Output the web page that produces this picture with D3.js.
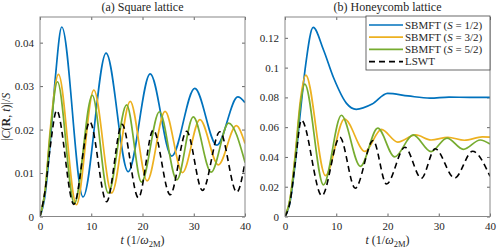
<!DOCTYPE html>
<html>
<head>
<meta charset="utf-8">
<script src="https://cdn.jsdelivr.net/npm/d3@7"></script>
<style>
  body { margin: 0; background: #fff; }
  svg text { fill: #262626; }
</style>
</head>
<body>
<svg id="chart" width="500" height="250"></svg>
<script>
// series: [t, |C|/S]
const squareS12 = [[0,0],[1,0.005],[2,0.017],[3,0.032],[4.25,0.0436],[8.4,0.0045],[12.9,0.0376],[17.2,0.0103],[21.5,0.0328],[25.7,0.0139],[30.2,0.0295],[34.5,0.0164],[38.6,0.0275],[40,0.0262]];
const squareS32 = [[0,0],[1,0.006],[2,0.02],[3.6,0.0327],[7.1,0.0027],[10.5,0.0291],[14.0,0.0054],[17.6,0.0265],[20.9,0.0082],[24.4,0.0242],[27.8,0.0101],[31.2,0.0223],[34.8,0.0119],[38.3,0.0209],[40,0.0168]];
const squareS52 = [[0,0],[1,0.006],[2,0.019],[3.4,0.031],[6.7,0.003],[10.2,0.0279],[13.3,0.0054],[16.9,0.0257],[19.8,0.0079],[23.3,0.0241],[26.7,0.0084],[29.9,0.0229],[33.4,0.0102],[36.8,0.0215],[40,0.0125]];
const squareLSWT = [[0,0],[1,0.006],[2,0.016],[3.25,0.0244],[6.6,0.0028],[9.7,0.0218],[13.0,0.0034],[16.0,0.0212],[19.2,0.0043],[22.1,0.0199],[25.4,0.005],[28.6,0.0196],[31.7,0.006],[35.1,0.0195],[38.4,0.0056],[40,0.0125]];

const honeyS12 = [[0,0],[1,0.01],[2,0.036],[3,0.07],[4,0.101],[5.5,0.127],[7.5,0.112],[9.5,0.093],[12,0.076],[13.9,0.072],[17,0.0755],[20,0.0827],[24,0.081],[28.3,0.0795],[32,0.0802],[36,0.0800],[40,0.0800]];
const honeyS32 = [[0,0],[1,0.012],[2,0.042],[3,0.078],[4.05,0.095],[7.9,0.0275],[11.6,0.0655],[15.6,0.0437],[18.8,0.0585],[22.0,0.0500],[25.5,0.0548],[28.5,0.0514],[31.8,0.0532],[35.0,0.0512],[38.5,0.0535],[40,0.0533]];
const honeyS52 = [[0,0],[1,0.012],[2,0.04],[3,0.075],[3.85,0.0889],[7.5,0.0213],[11.0,0.068],[14.7,0.0337],[18.1,0.0593],[21.4,0.0400],[25.0,0.0548],[28.5,0.0436],[31.6,0.0527],[34.8,0.0451],[38.1,0.0514],[40,0.0487]];
const honeyLSWT = [[0,0],[1,0.01],[2,0.036],[3.2,0.0648],[7.2,0.014],[10.7,0.0532],[13.7,0.019],[17.2,0.051],[19.8,0.0218],[23.4,0.0465],[26.6,0.0257],[29.3,0.0455],[33.1,0.0258],[36.6,0.0438],[40,0.027]];

const legendLabels = ["1/2", "3/2", "5/2"];
const colors = ["#0072BD", "#EDB120", "#77AC30", "#000000"];
const xTicks = [0, 10, 20, 30, 40];
const squareYTicks = [0, 0.01, 0.02, 0.03, 0.04];
const honeyYTicks = [0, 0.02, 0.04, 0.06, 0.08, 0.1, 0.12];

const serif = "Liberation Serif";
const svg = d3.select("#chart");

const panels = [
  { title: "(a) Square lattice", left: 40, right: 245, ymax: 0.0459, yTicks: squareYTicks,
    series: [squareS12, squareS32, squareS52, squareLSWT], ylabel: true, legend: false },
  { title: "(b) Honeycomb lattice", left: 285, right: 490, ymax: 0.134, yTicks: honeyYTicks,
    series: [honeyS12, honeyS32, honeyS52, honeyLSWT], ylabel: false, legend: true }
];
const plotTop = 17, plotBottom = 216.5;
const fmt = d => d === 0 ? "0" : String(+d.toFixed(3));

panels.forEach((p, i) => {
  const x = d3.scaleLinear().domain([0, 40]).range([p.left, p.right]);
  const y = d3.scaleLinear().domain([0, p.ymax]).range([plotBottom, plotTop]);
  const g = svg.append("g").attr("font-family", serif);

  // clip region
  const clipId = "clip" + i;
  svg.append("clipPath").attr("id", clipId)
     .append("rect")
     .attr("x", p.left).attr("y", plotTop)
     .attr("width", p.right - p.left).attr("height", plotBottom - plotTop);

  // axes with inward ticks on all sides
  const axB = g.append("g").attr("transform", `translate(0,${plotBottom})`)
     .call(d3.axisBottom(x).tickValues(xTicks).tickSize(-3).tickPadding(6).tickFormat(d3.format("d")));
  const axT = g.append("g").attr("transform", `translate(0,${plotTop})`)
     .call(d3.axisTop(x).tickValues(xTicks).tickSize(-3).tickFormat(""));
  const axL = g.append("g").attr("transform", `translate(${p.left},0)`)
     .call(d3.axisLeft(y).tickValues(p.yTicks).tickSize(-3).tickPadding(6).tickFormat(fmt));
  const axR = g.append("g").attr("transform", `translate(${p.right},0)`)
     .call(d3.axisRight(y).tickValues(p.yTicks).tickSize(-3).tickFormat(""));
  [axB, axT, axL, axR].forEach(a => {
    a.attr("font-family", serif).attr("font-size", 11);
    a.select(".domain").remove();
    a.selectAll("line").attr("stroke", "#666");
    a.selectAll("text").attr("fill", "#262626");
  });

  // lines
  const line = d3.line().x(d => x(d[0])).y(d => y(d[1])).curve(d3.curveMonotoneX);
  const lines = g.append("g").attr("clip-path", `url(#${clipId})`);
  p.series.forEach((s, k) => {
    lines.append("path")
       .datum(s)
       .attr("d", line)
       .attr("fill", "none")
       .attr("stroke", colors[k])
       .attr("stroke-width", k === 3 ? 1.6 : 1.7)
       .attr("stroke-dasharray", k === 3 ? "6,4" : null);
  });

  // frame
  g.append("rect")
   .attr("x", p.left).attr("y", plotTop)
   .attr("width", p.right - p.left).attr("height", plotBottom - plotTop)
   .attr("fill", "none").attr("stroke", "#888").attr("stroke-width", 1);

  // title
  g.append("text")
   .attr("x", (p.left + p.right) / 2).attr("y", 11)
   .attr("text-anchor", "middle").attr("font-size", 12)
   .text(p.title);

  // x label
  const xl = g.append("text")
   .attr("x", (p.left + p.right) / 2).attr("y", 244)
   .attr("text-anchor", "middle").attr("font-size", 12);
  xl.append("tspan").attr("font-style", "italic").text("t");
  xl.append("tspan").text(" (1/");
  xl.append("tspan").attr("font-style", "italic").text("ω");
  xl.append("tspan").attr("font-size", 8.5).attr("dy", 2.5).text("2M");
  xl.append("tspan").attr("dy", -2.5).text(")");

  if (p.ylabel) {
    const yl = g.append("text")
     .attr("transform", `translate(10,${(plotTop + plotBottom) / 2}) rotate(-90)`)
     .attr("text-anchor", "middle").attr("font-size", 12);
    yl.append("tspan").text("|");
    yl.append("tspan").attr("font-style", "italic").text("C");
    yl.append("tspan").text("(");
    yl.append("tspan").attr("font-weight", "bold").text("R");
    yl.append("tspan").text(", ");
    yl.append("tspan").attr("font-style", "italic").text("t");
    yl.append("tspan").text(")|/");
    yl.append("tspan").attr("font-style", "italic").text("S");
  }

  if (p.legend) {
    const lg = g.append("g");
    lg.append("rect")
      .attr("x", 366).attr("y", 16).attr("width", 124).attr("height", 54)
      .attr("fill", "#fff").attr("stroke", "#444").attr("stroke-width", 0.8);
    const labels = legendLabels.concat(["LSWT"]);
    labels.forEach((lab, k) => {
      const ry = 25 + k * 12.2;
      lg.append("line")
        .attr("x1", 369).attr("x2", 403).attr("y1", ry).attr("y2", ry)
        .attr("stroke", colors[k]).attr("stroke-width", k === 3 ? 1.6 : 1.7)
        .attr("stroke-dasharray", k === 3 ? "6,4" : null);
      const t = lg.append("text").attr("x", 405).attr("y", ry + 3.8).attr("font-size", 11);
      if (k < 3) {
        t.append("tspan").text("SBMFT (");
        t.append("tspan").attr("font-style", "italic").text("S");
        t.append("tspan").text(" = " + lab + ")");
      } else {
        t.text(lab);
      }
    });
  }
});
</script>
</body>
</html>
